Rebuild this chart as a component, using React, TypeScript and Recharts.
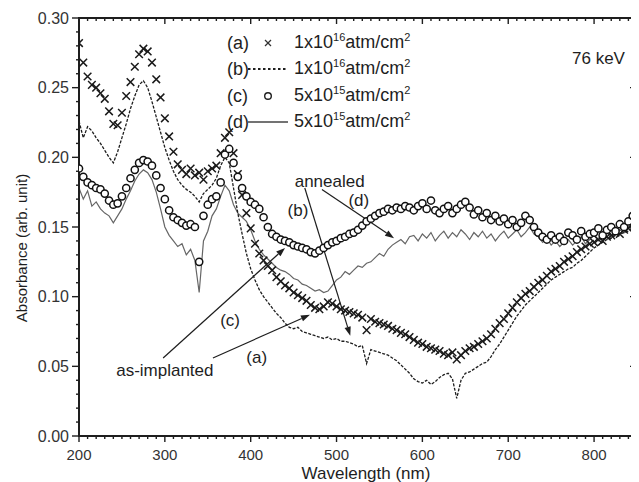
import React from 'react';
import { LineChart, Line, XAxis, YAxis, ReferenceLine, ReferenceDot, Legend } from 'recharts';

const FONT = '"Liberation Sans", Arial, sans-serif';

// Wavelength grid (nm)
const wavelengths = [
  200, 205, 210, 215, 220, 225, 230, 235, 240, 245, 250, 255, 260, 265, 270, 275, 280, 285, 290, 295,
  300, 305, 310, 315, 320, 325, 330, 335, 340, 345, 350, 355, 360, 365, 370, 375, 380, 385, 390, 395,
  400, 405, 410, 415, 420, 425, 430, 435, 440, 445, 450, 455, 460, 465, 470, 475, 480, 485, 490, 495,
  500, 505, 510, 515, 520, 525, 530, 535, 540, 545, 550, 555, 560, 565, 570, 575, 580, 585, 590, 595,
  600, 605, 610, 615, 620, 625, 630, 635, 640, 645, 650, 655, 660, 665, 670, 675, 680, 685, 690, 695,
  700, 705, 710, 715, 720, 725, 730, 735, 740, 745, 750, 755, 760, 765, 770, 775, 780, 785, 790, 795,
  800, 805, 810, 815, 820, 825, 830, 835, 840, 845, 850,
];

// (a) 1x10^16 atm/cm2, as-implanted (crosses)
const seriesA = [
  0.282, 0.268, 0.258, 0.252, 0.250, 0.246, 0.242, 0.233, 0.224, 0.223, 0.232, 0.244, 0.254, 0.265, 0.274, 0.278, 0.276, 0.268, 0.256, 0.243,
  0.228, 0.215, 0.204, 0.195, 0.191, 0.188, 0.192, 0.187, 0.189, 0.184, 0.190, 0.192, 0.194, 0.203, 0.214, 0.218, 0.203, 0.188, 0.173, 0.160,
  0.149, 0.138, 0.131, 0.126, 0.122, 0.119, 0.114, 0.111, 0.108, 0.106, 0.103, 0.101, 0.099, 0.097, 0.094, 0.092, 0.091, 0.093, 0.096, 0.095,
  0.093, 0.091, 0.090, 0.089, 0.088, 0.087, 0.085, 0.076, 0.084, 0.082, 0.081, 0.080, 0.079, 0.077, 0.076, 0.074, 0.073, 0.071, 0.069, 0.067,
  0.066, 0.064, 0.063, 0.062, 0.061, 0.059, 0.058, 0.060, 0.055, 0.058, 0.061, 0.063, 0.064, 0.066, 0.068, 0.070, 0.073, 0.077, 0.081, 0.084,
  0.088, 0.092, 0.096, 0.099, 0.102, 0.104, 0.107, 0.110, 0.112, 0.115, 0.118, 0.120, 0.122, 0.125, 0.127, 0.129, 0.132, 0.134, 0.136, 0.138,
  0.139, 0.141, 0.140, 0.143, 0.144, 0.146, 0.145, 0.148, 0.149, 0.152, 0.162,
];

// (b) 1x10^16 atm/cm2, annealed (dotted line)
const seriesB = [
  0.226, 0.214, 0.222, 0.219, 0.214, 0.210, 0.205, 0.200, 0.196, 0.204, 0.214, 0.224, 0.235, 0.244, 0.252, 0.255, 0.250, 0.240, 0.229, 0.218,
  0.207, 0.198, 0.190, 0.184, 0.180, 0.177, 0.175, 0.172, 0.168, 0.174, 0.177, 0.180, 0.185, 0.194, 0.200, 0.196, 0.178, 0.160, 0.145, 0.131,
  0.120, 0.112, 0.105, 0.100, 0.096, 0.092, 0.088, 0.085, 0.081, 0.078, 0.077, 0.078, 0.075, 0.074, 0.073, 0.072, 0.071, 0.070, 0.071, 0.069,
  0.070, 0.068, 0.068, 0.067, 0.066, 0.064, 0.065, 0.052, 0.062, 0.061, 0.060, 0.059, 0.058, 0.056, 0.054, 0.051, 0.048, 0.045, 0.041, 0.039,
  0.038, 0.040, 0.037, 0.039, 0.042, 0.044, 0.045, 0.041, 0.027, 0.040, 0.045, 0.046, 0.048, 0.050, 0.052, 0.053, 0.057, 0.062, 0.066, 0.071,
  0.076, 0.081, 0.086, 0.090, 0.094, 0.097, 0.100, 0.103, 0.106, 0.109, 0.112, 0.114, 0.116, 0.118, 0.120, 0.121, 0.124, 0.126, 0.129, 0.132,
  0.135, 0.137, 0.139, 0.141, 0.142, 0.144, 0.145, 0.146, 0.147, 0.150, 0.155,
];

// (c) 5x10^15 atm/cm2, as-implanted (circles)
const seriesC = [
  0.192, 0.186, 0.182, 0.180, 0.178, 0.177, 0.174, 0.169, 0.166, 0.167, 0.172, 0.178, 0.185, 0.191, 0.196, 0.198, 0.197, 0.194, 0.187, 0.178,
  0.170, 0.162, 0.157, 0.155, 0.153, 0.151, 0.152, 0.150, 0.125, 0.158, 0.166, 0.170, 0.172, 0.182, 0.202, 0.206, 0.196, 0.186, 0.178, 0.172,
  0.168, 0.166, 0.163, 0.157, 0.150, 0.145, 0.143, 0.141, 0.140, 0.139, 0.137, 0.136, 0.135, 0.134, 0.132, 0.131, 0.133, 0.135, 0.137, 0.139,
  0.140, 0.142, 0.143, 0.145, 0.146, 0.148, 0.151, 0.154, 0.156, 0.158, 0.160, 0.161, 0.163, 0.162, 0.164, 0.163, 0.165, 0.164, 0.162, 0.165,
  0.167, 0.163, 0.169, 0.162, 0.160, 0.163, 0.165, 0.160, 0.163, 0.166, 0.168, 0.164, 0.159, 0.162, 0.157, 0.160, 0.155, 0.158, 0.154, 0.156,
  0.152, 0.155, 0.150, 0.153, 0.158, 0.155, 0.150, 0.146, 0.143, 0.141, 0.144, 0.141, 0.143, 0.140, 0.146, 0.144, 0.141, 0.147, 0.143, 0.145,
  0.146, 0.149, 0.144, 0.148, 0.150, 0.147, 0.152, 0.150, 0.154, 0.158, 0.168,
];

// (d) 5x10^15 atm/cm2, annealed (solid line)
const seriesD = [
  0.178, 0.170, 0.176, 0.165, 0.168, 0.163, 0.160, 0.158, 0.153, 0.158, 0.163, 0.170, 0.176, 0.183, 0.188, 0.191, 0.189, 0.184, 0.175, 0.163,
  0.150, 0.144, 0.140, 0.136, 0.138, 0.130, 0.134, 0.126, 0.103, 0.140, 0.147, 0.158, 0.163, 0.172, 0.180, 0.176, 0.166, 0.160, 0.157, 0.154,
  0.148, 0.140, 0.134, 0.130, 0.127, 0.124, 0.121, 0.119, 0.118, 0.116, 0.113, 0.112, 0.109, 0.108, 0.106, 0.104, 0.105, 0.103, 0.104, 0.108,
  0.112, 0.114, 0.118, 0.116, 0.119, 0.122, 0.121, 0.124, 0.125, 0.128, 0.131, 0.129, 0.134, 0.137, 0.139, 0.141, 0.138, 0.143, 0.144, 0.140,
  0.145, 0.142, 0.146, 0.140, 0.144, 0.147, 0.142, 0.146, 0.143, 0.148, 0.145, 0.141, 0.146, 0.143, 0.147, 0.142, 0.145, 0.140, 0.144, 0.147,
  0.142, 0.145, 0.148, 0.143, 0.146, 0.150, 0.145, 0.143, 0.139, 0.142, 0.137, 0.140, 0.136, 0.139, 0.141, 0.137, 0.140, 0.143, 0.138, 0.141,
  0.144, 0.140, 0.143, 0.146, 0.142, 0.145, 0.148, 0.146, 0.150, 0.152, 0.160,
];

const majorXTicks = [200, 300, 400, 500, 600, 700, 800];
const majorYTicks = [0, 0.05, 0.1, 0.15, 0.2, 0.25, 0.3];
const X_DOMAIN = [200, 850];
const Y_DOMAIN = [0, 0.3];

const xMinorTicks: number[] = [];
for (let v = 210; v < 850; v += 10) if (!majorXTicks.includes(v)) xMinorTicks.push(v);
const yMinorTicks: number[] = [];
for (let i = 1; i < 30; i++) if (i % 5 !== 0) yMinorTicks.push(i / 100);

const legendRows = [
  { tag: '(a)', kind: 'cross', base: '1x10', exp: '16' },
  { tag: '(b)', kind: 'dotted', base: '1x10', exp: '16' },
  { tag: '(c)', kind: 'circle', base: '5x10', exp: '15' },
  { tag: '(d)', kind: 'line', base: '5x10', exp: '15' },
];

const arrows = [
  { x1: 298, y1: 0.056, x2: 440, y2: 0.135 },
  { x1: 356, y1: 0.056, x2: 469, y2: 0.087 },
  { x1: 463, y1: 0.178, x2: 516, y2: 0.072 },
  { x1: 483, y1: 0.177, x2: 567, y2: 0.142 },
];

const notes = [
  { text: 'as-implanted', x: 300, y: 0.047, anchor: 'middle' },
  { text: '(c)', x: 376, y: 0.083, anchor: 'middle' },
  { text: '(a)', x: 407, y: 0.056, anchor: 'middle' },
  { text: 'annealed', x: 492, y: 0.183, anchor: 'middle' },
  { text: '(b)', x: 455, y: 0.162, anchor: 'middle' },
  { text: '(d)', x: 526, y: 0.169, anchor: 'middle' },
  { text: '76 keV', x: 836, y: 0.271, anchor: 'end' },
];

const data = wavelengths.map((w, i) => ({ w, a: seriesA[i], b: seriesB[i], c: seriesC[i], d: seriesD[i] }));

const INK = '#1e1e1e';

const BottomTickLabel = (p: any) => (
  <text x={p.x} y={p.y + 24} textAnchor="middle" fontSize={15} fill="#333" fontFamily={FONT}>
    {p.payload.value}
  </text>
);

const LeftTickLabel = (p: any) => (
  <text x={p.x - 10} y={p.y} dy="0.35em" textAnchor="end" fontSize={16} fill="#333" fontFamily={FONT}>
    {Number(p.payload.value).toFixed(2)}
  </text>
);

const XLabel = (p: any) => {
  const { x, y, width, height } = p.viewBox;
  return (
    <text x={x + width / 2 + 8} y={y + height + 13} textAnchor="middle" fontSize={17} fill={INK} fontFamily={FONT}>
      Wavelength (nm)
    </text>
  );
};

const YLabel = (p: any) => {
  const { x, y, height } = p.viewBox;
  const cx = x + 13;
  const cy = y + height / 2 + 21;
  return (
    <text x={cx} y={cy} transform={`rotate(-90, ${cx}, ${cy})`} textAnchor="middle" dominantBaseline="central" fontSize={15} fill={INK} fontFamily={FONT}>
      Absorbance (arb. unit)
    </text>
  );
};

// Frame edge drawn from the reference line's own end points
const FrameEdge = (p: any) => (
  <line x1={p.x1} y1={p.y1} x2={p.x2} y2={p.y2} stroke={INK} strokeWidth={2} strokeLinecap="square" />
);

// Tick marks on a vertical reference line: outward at the bottom, inward at the top
const makeXTick = (len: number) => (p: any) => {
  const x = p.x1;
  const yb = Math.max(p.y1, p.y2);
  const yt = Math.min(p.y1, p.y2);
  return (
    <g>
      <line x1={x} x2={x} y1={yb} y2={yb + len} stroke={INK} strokeWidth={1.4} />
      <line x1={x} x2={x} y1={yt} y2={yt + len} stroke={INK} strokeWidth={1.4} />
    </g>
  );
};

// Tick marks on a horizontal reference line: outward at the left, inward at the right
const makeYTick = (len: number) => (p: any) => {
  const y = p.y1;
  const xl = Math.min(p.x1, p.x2);
  const xr = Math.max(p.x1, p.x2);
  return (
    <g>
      <line x1={xl} x2={xl - len} y1={y} y2={y} stroke={INK} strokeWidth={1.4} />
      <line x1={xr} x2={xr - len} y1={y} y2={y} stroke={INK} strokeWidth={1.4} />
    </g>
  );
};

const CrossDot = (p: any) => {
  const { cx, cy } = p;
  if (cx == null || cy == null) return <g key={p.key} />;
  const s = 3.8;
  return <path key={p.key} d={`M${cx - s},${cy - s}L${cx + s},${cy + s}M${cx - s},${cy + s}L${cx + s},${cy - s}`} stroke="#1a1a1a" strokeWidth={1.5} fill="none" />;
};

const CircleDot = (p: any) => {
  const { cx, cy } = p;
  if (cx == null || cy == null) return <g key={p.key} />;
  return <circle key={p.key} cx={cx} cy={cy} r={3.6} fill="#fff" stroke="#111" strokeWidth={1.5} />;
};

const Arrow = (p: any) => {
  const { x1, y1, x2, y2 } = p;
  const ang = Math.atan2(y2 - y1, x2 - x1);
  const L = 9;
  const W = 3.2;
  const bx = x2 - L * Math.cos(ang);
  const by = y2 - L * Math.sin(ang);
  const px = -Math.sin(ang) * W;
  const py = Math.cos(ang) * W;
  return (
    <g>
      <line x1={x1} y1={y1} x2={bx} y2={by} stroke={INK} strokeWidth={1.2} />
      <polygon points={`${x2},${y2} ${bx + px},${by + py} ${bx - px},${by - py}`} fill={INK} />
    </g>
  );
};

const makeNote = (text: string, anchor: string) => (p: any) => (
  <text x={p.cx} y={p.cy} textAnchor={anchor as any} dominantBaseline="central" fontSize={17} fill={INK} fontFamily={FONT}>
    {text}
  </text>
);

const LegendMarker = ({ kind }: { kind: string }) => (
  <svg width={40} height={20} style={{ display: 'block' }}>
    {kind === 'cross' && (
      <g>
        <line x1={17} y1={7} x2={23} y2={13} stroke="#333" strokeWidth={1.3} />
        <line x1={17} y1={13} x2={23} y2={7} stroke="#333" strokeWidth={1.3} />
      </g>
    )}
    {kind === 'dotted' && <line x1={0} y1={10} x2={40} y2={10} stroke={INK} strokeWidth={1.8} strokeDasharray="2.5 2.5" />}
    {kind === 'circle' && <circle cx={20} cy={10} r={3.3} fill="#fff" stroke={INK} strokeWidth={1.4} />}
    {kind === 'line' && <line x1={0} y1={10} x2={40} y2={10} stroke="#444" strokeWidth={1.3} />}
  </svg>
);

const LegendContent = () => (
  <div style={{ fontFamily: FONT, color: INK, fontSize: 18 }}>
    {legendRows.map((r) => (
      <div key={r.tag} style={{ display: 'flex', alignItems: 'center', height: 26.3, lineHeight: '26px', whiteSpace: 'nowrap' }}>
        <span style={{ width: 21, display: 'inline-block' }}>{r.tag}</span>
        <LegendMarker kind={r.kind} />
        <span style={{ marginLeft: 6 }}>
          {r.base}
          <span style={{ fontSize: 11, position: 'relative', top: -7 }}>{r.exp}</span>
          atm/cm
          <span style={{ fontSize: 11, position: 'relative', top: -7 }}>2</span>
        </span>
      </div>
    ))}
  </div>
);

export default function App() {
  return (
    <LineChart width={631} height={474} data={data} margin={{ top: 10, right: 2, bottom: 16, left: 0 }}>
      <XAxis dataKey="w" type="number" domain={X_DOMAIN} ticks={majorXTicks} interval={0} tickSize={0} tickMargin={0} tickLine={false} tick={<BottomTickLabel />} axisLine={false} height={30} allowDataOverflow label={<XLabelWrap />} />
      <YAxis type="number" domain={Y_DOMAIN} ticks={majorYTicks} interval={0} tickSize={0} tickMargin={0} tickLine={false} tick={<LeftTickLabel />} axisLine={false} width={71} allowDataOverflow label={<YLabelWrap />} />
      <Legend layout="vertical" align="center" verticalAlign="middle" content={<LegendContent />} wrapperStyle={{ position: 'absolute', left: 219, top: 22, width: 240, height: 110 }} />
      {majorXTicks.map((v) => <ReferenceLine key={'xM' + v} x={v} shape={makeXTick(6)} />)}
      {xMinorTicks.map((v) => <ReferenceLine key={'xm' + v} x={v} shape={makeXTick(3)} />)}
      {majorYTicks.map((v) => <ReferenceLine key={'yM' + v} y={v} shape={makeYTick(7)} />)}
      {yMinorTicks.map((v) => <ReferenceLine key={'ym' + v} y={v} shape={makeYTick(3)} />)}
      <Line dataKey="d" stroke="#666" strokeWidth={1.2} dot={false} isAnimationActive={false} />
      <Line dataKey="b" stroke={INK} strokeWidth={1.3} strokeDasharray="3 1.5" dot={false} isAnimationActive={false} />
      <Line dataKey="a" stroke="none" dot={CrossDot} activeDot={false} isAnimationActive={false} />
      <Line dataKey="c" stroke="none" dot={CircleDot} activeDot={false} isAnimationActive={false} />
      <ReferenceLine x={X_DOMAIN[0]} shape={FrameEdge} />
      <ReferenceLine x={X_DOMAIN[1]} shape={FrameEdge} />
      <ReferenceLine y={Y_DOMAIN[0]} shape={FrameEdge} />
      <ReferenceLine y={Y_DOMAIN[1]} shape={FrameEdge} />
      {arrows.map((a, i) => (
        <ReferenceLine key={'arrow' + i} segment={[{ x: a.x1, y: a.y1 }, { x: a.x2, y: a.y2 }]} shape={Arrow} />
      ))}
      {notes.map((n, i) => (
        <ReferenceDot key={'note' + i} x={n.x} y={n.y} r={0} shape={makeNote(n.text, n.anchor)} />
      ))}
    </LineChart>
  );
}

function XLabelWrap(p: any) {
  return <XLabel {...p} />;
}
function YLabelWrap(p: any) {
  return <YLabel {...p} />;
}
